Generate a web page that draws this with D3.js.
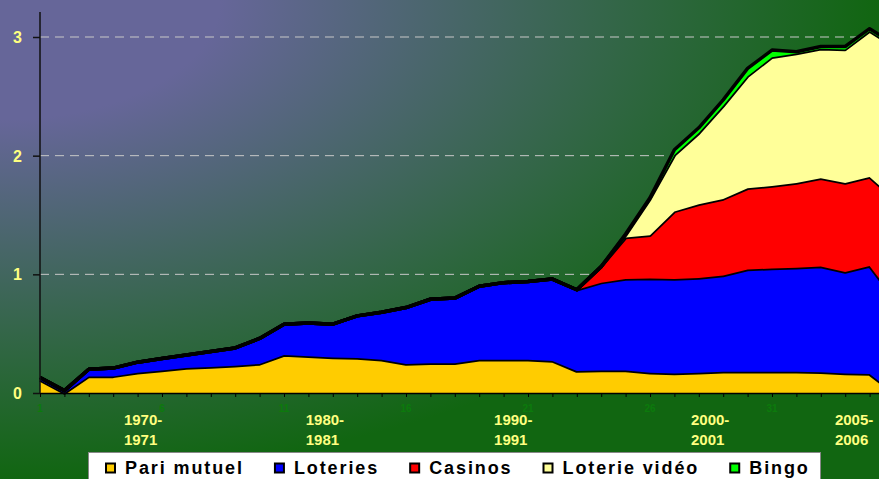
<!DOCTYPE html>
<html>
<head>
<meta charset="utf-8">
<script src="https://cdn.jsdelivr.net/npm/d3@7"></script>
<style>
    body { margin: 0; padding: 0; overflow: hidden; }
    svg { display: block; font-family: Arial, "Liberation Sans", sans-serif; }
</style>
</head>
<body>
<svg id="chart"></svg>
<script>
// catégories (numéros d'exercice) et séries en milliards de dollars
let categories = [1,2,3,4,5,6,7,8,9,10,11,12,13,14,15,16,17,18,19,20,21,22,23,24,25,26,27,28,29,30,31,32,33,34,35,36];

let pariMutuel = [0.11,0.00,0.14,0.14,0.17,0.19,0.21,0.22,0.23,0.245,0.32,0.31,0.30,0.295,0.28,0.245,0.25,0.25,
    0.28,0.28,0.28,0.27,0.185,0.19,0.19,0.17,0.165,0.17,0.18,0.18,0.18,0.18,0.175,0.165,0.16,0.00];
let loteries = [0.02,0.02,0.06,0.07,0.09,0.10,0.11,0.13,0.15,0.215,0.26,0.28,0.28,0.355,0.40,0.475,0.54,0.55,
    0.62,0.65,0.66,0.69,0.685,0.74,0.77,0.795,0.795,0.80,0.81,0.86,0.87,0.875,0.89,0.855,0.91,0.80];
let casinos = [0,0,0,0,0,0,0,0,0,0,0,0,0,0,0,0,0,0,
    0,0,0,0,0,0.135,0.35,0.365,0.57,0.62,0.645,0.685,0.695,0.715,0.745,0.75,0.75,0.84];
let loterieVideo = [0,0,0,0,0,0,0,0,0,0,0,0,0,0,0,0,0,0,
    0,0,0,0,0,0,0.02,0.305,0.475,0.60,0.785,0.945,1.085,1.09,1.09,1.125,1.23,1.28];
let bingo = [0,0,0,0,0,0,0,0,0,0,0,0,0,0,0,0,0,0,
    0,0,0,0,0,0,0.01,0.01,0.045,0.045,0.05,0.065,0.06,0.015,0.02,0.025,0.02,0.02];

let seriesNames = ['Pari mutuel', 'Loteries', 'Casinos', 'Loterie vidéo', 'Bingo'];
let seriesColors = ['#ffcc00', '#0000ff', '#ff0000', '#ffff99', '#00ff00'];

let yTicks = [0, 1, 2, 3];
let numberTicks = [1, 6, 11, 16, 21, 26, 31];
let yearLabels = [['1970-', '1971'], ['1980-', '1981'], ['1990-', '1991'], ['2000-', '2001'], ['2005-', '2006']];
let yearLabelAt = [4.44, 11.89, 19.61, 27.68, 33.58];

const width = 879;
const height = 479;
const left = 40;
const bottom = 393;

let svg = d3.select('#chart').attr('width', width).attr('height', height);

// fond dégradé depuis le coin
let defs = svg.append('defs');
let grad = defs.append('radialGradient')
    .attr('id', 'bg')
    .attr('cx', 0).attr('cy', 0).attr('fx', 0).attr('fy', 0).attr('r', 1);
grad.append('stop').attr('offset', 0).attr('stop-color', '#666699');
grad.append('stop').attr('offset', 0.25).attr('stop-color', '#666699');
grad.append('stop').attr('offset', 1).attr('stop-color', '#116611');
svg.append('rect').attr('width', width).attr('height', height).attr('fill', 'url(#bg)');

let x = d3.scaleLinear().domain([1, 36]).range([left, 894]);
let y = d3.scaleLinear().domain([0, 3]).range([bottom, 37]);

// grille
svg.append('g')
    .selectAll('line')
    .data(yTicks.slice(1))
    .enter()
    .append('line')
    .attr('x1', left)
    .attr('x2', 860)
    .attr('y1', d => y(d))
    .attr('y2', d => y(d))
    .attr('stroke', '#c8c8c8')
    .attr('stroke-width', 1)
    .attr('stroke-dasharray', '9,6');

// empilement
let table = categories.map((c, i) => ({
    cat: c,
    'Pari mutuel': pariMutuel[i],
    'Loteries': loteries[i],
    'Casinos': casinos[i],
    'Loterie vidéo': loterieVideo[i],
    'Bingo': bingo[i]
}));
let stacked = d3.stack().keys(seriesNames)(table);

let area = d3.area()
    .x(d => x(d.data.cat))
    .y0(d => y(d[0]))
    .y1(d => y(d[1]));
let topLine = d3.line()
    .x(d => x(d.data.cat))
    .y(d => y(d[1]));

stacked.forEach((layer, i) => {
    svg.append('path')
        .datum(layer)
        .attr('d', area)
        .attr('fill', seriesColors[i]);
    svg.append('path')
        .datum(layer)
        .attr('d', topLine)
        .attr('fill', 'none')
        .attr('stroke', '#000')
        .attr('stroke-width', 3.5)
        .attr('stroke-linejoin', 'round');
});

// axes
let axisX = d3.axisBottom(x).tickValues(categories).tickFormat('').tickSize(4).tickSizeOuter(0);
let gx = svg.append('g').attr('transform', `translate(0, ${bottom})`).call(axisX);
gx.select('.domain').attr('stroke', '#000').attr('stroke-width', 1.5);
gx.selectAll('.tick line').attr('stroke', '#000');

let axisY = d3.axisLeft(y).tickValues(yTicks).tickFormat('').tickSize(7).tickSizeOuter(0);
let gy = svg.append('g').attr('transform', `translate(${left}, 0)`).call(axisY);
gy.select('.domain').attr('d', `M0,12V${bottom}`).attr('stroke', '#111').attr('stroke-width', 1.5);
gy.selectAll('.tick line').attr('stroke', '#111').attr('stroke-width', 1.5);

// étiquettes de l'axe Y
svg.append('g')
    .selectAll('text')
    .data(yTicks)
    .enter()
    .append('text')
    .attr('x', 22)
    .attr('y', d => y(d) + 6)
    .attr('text-anchor', 'end')
    .attr('fill', '#ffff80')
    .style('font-size', '16px')
    .style('font-weight', 'bold')
    .text(d => d);

// numéros des catégories
svg.append('g')
    .selectAll('text')
    .data(numberTicks)
    .enter()
    .append('text')
    .attr('x', d => x(d))
    .attr('y', 412)
    .attr('text-anchor', 'middle')
    .attr('fill', '#0c7a0c')
    .style('font-size', '10px')
    .style('font-weight', 'bold')
    .text(d => d);

// années
let years = svg.append('g')
    .selectAll('text')
    .data(yearLabels)
    .enter()
    .append('text')
    .attr('fill', '#ffff80')
    .style('font-size', '15px')
    .style('font-weight', 'bold');
years.each(function(d, i) {
    let t = d3.select(this);
    d.forEach((line, j) => {
        t.append('tspan')
            .attr('x', x(yearLabelAt[i]))
            .attr('y', 425 + j * 20)
            .text(line);
    });
});

// légende
let legend = svg.append('g');
legend.append('rect')
    .attr('x', 88.5)
    .attr('y', 452.5)
    .attr('width', 732)
    .attr('height', 40)
    .attr('fill', '#fff')
    .attr('stroke', '#888')
    .attr('stroke-width', 1);

let posX = 105;
seriesNames.forEach((name, i) => {
    legend.append('rect')
        .attr('x', posX + 1)
        .attr('y', 463.5)
        .attr('width', 9)
        .attr('height', 9)
        .attr('fill', seriesColors[i])
        .attr('stroke', '#000')
        .attr('stroke-width', 2);
    let txt = legend.append('text')
        .attr('x', posX + 20)
        .attr('y', 474)
        .attr('fill', '#000')
        .style('font-size', '18px')
        .style('font-weight', 'bold')
        .style('letter-spacing', '1.9px')
        .text(name);
    posX += 20 + txt.node().getComputedTextLength() + 30;
});
</script>
</body>
</html>
